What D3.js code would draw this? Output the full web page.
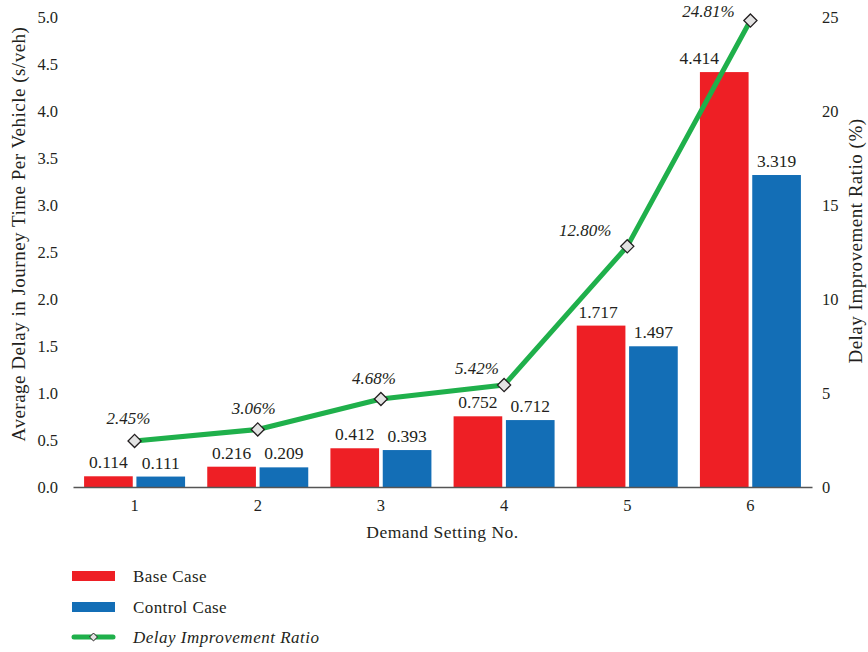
<!DOCTYPE html>
<html>
<head>
<meta charset="utf-8">
<script src="https://cdn.jsdelivr.net/npm/d3@7"></script>
<style>
  body { margin: 0; background: #fff; }
  svg text { font-family: "Liberation Serif", "DejaVu Serif", serif; fill: #231f20; }
</style>
</head>
<body>
<div id="chart"></div>
<script>
const settings = ["1", "2", "3", "4", "5", "6"];
const baseCase = [0.114, 0.216, 0.412, 0.752, 1.717, 4.414];
const controlCase = [0.111, 0.209, 0.393, 0.712, 1.497, 3.319];
const improvementRatio = [2.45, 3.06, 4.68, 5.42, 12.80, 24.81];
const leftTicks = [0, 0.5, 1, 1.5, 2, 2.5, 3, 3.5, 4, 4.5, 5];
const rightTicks = [0, 5, 10, 15, 20, 25];

// hand placement of labels so they clear the green line
const ratioLabelShift = [[-6, -17], [-4, -15], [-7, -15], [-27, -11], [-42, -10], [-42, -4]];
const baseLabelShift = [0, 0, 0, 0, -3, -25];

const red = "#ee1f25", blue = "#136eb6", green = "#1fb04b";

const width = 868, height = 652;
const plot = {left: 73, right: 812, top: 17, bottom: 487};

const svg = d3.select("#chart")
  .append("svg")
    .attr("width", width)
    .attr("height", height);

const x = d3.scaleBand()
  .domain(settings)
  .range([plot.left, plot.right])
  .paddingInner(0.18)
  .paddingOuter(0.09);

const xSub = d3.scaleBand()
  .domain(["base", "control"])
  .range([0, x.bandwidth()])
  .paddingInner(0.07);

const y = d3.scaleLinear().domain([0, 5]).range([plot.bottom, plot.top]);
const y2 = d3.scaleLinear().domain([0, 25]).range([plot.bottom, plot.top]);

// left axis
const leftAxis = svg.append("g")
  .attr("transform", "translate(" + (plot.left - 15) + ",0)")
  .call(d3.axisLeft(y).tickValues(leftTicks).tickFormat(d3.format(".1f")).tickSize(0).tickPadding(0));
leftAxis.select(".domain").remove();
leftAxis.selectAll("text").style("font-size", "16.5px");

// right axis
const rightAxis = svg.append("g")
  .attr("transform", "translate(" + (plot.right + 10) + ",0)")
  .call(d3.axisRight(y2).tickValues(rightTicks).tickSize(0).tickPadding(0));
rightAxis.select(".domain").remove();
rightAxis.selectAll("text").style("font-size", "16.5px");

// bars
const rows = settings.map((s, i) => ({s: s, i: i, base: baseCase[i], control: controlCase[i]}));
const pairs = d => [{k: "base", v: d.base, i: d.i}, {k: "control", v: d.control, i: d.i}];

const groups = svg.selectAll(".grp")
  .data(rows)
  .join("g")
    .attr("class", "grp")
    .attr("transform", d => "translate(" + x(d.s) + ",0)");

groups.selectAll("rect")
  .data(pairs)
  .join("rect")
    .attr("x", d => xSub(d.k))
    .attr("y", d => y(d.v))
    .attr("width", xSub.bandwidth())
    .attr("height", d => plot.bottom - y(d.v))
    .attr("fill", d => d.k === "base" ? red : blue);

groups.selectAll("text")
  .data(pairs)
  .join("text")
    .attr("x", d => xSub(d.k) + xSub.bandwidth() / 2 + (d.k === "base" ? baseLabelShift[d.i] : 0))
    .attr("y", d => y(d.v) - 8)
    .attr("text-anchor", "middle")
    .style("font-size", "17.5px")
    .text(d => d3.format(".3f")(d.v));

// x axis
const bottomAxis = svg.append("g")
  .attr("transform", "translate(0," + plot.bottom + ")")
  .call(d3.axisBottom(x).tickSize(0).tickPadding(12));
bottomAxis.select(".domain").attr("stroke", "#555").attr("stroke-width", 1.5);
bottomAxis.selectAll("text").style("font-size", "16.5px");

// ratio line
const cx = i => x(settings[i]) + x.bandwidth() / 2;

svg.append("path")
  .datum(improvementRatio)
  .attr("fill", "none")
  .attr("stroke", green)
  .attr("stroke-width", 5)
  .attr("stroke-linejoin", "round")
  .attr("d", d3.line().x((d, i) => cx(i)).y(d => y2(d)));

const diamond = d3.symbol().type(d3.symbolDiamond2).size(110);

svg.selectAll(".pt")
  .data(improvementRatio)
  .join("path")
    .attr("class", "pt")
    .attr("transform", (d, i) => "translate(" + cx(i) + "," + y2(d) + ")")
    .attr("d", diamond)
    .attr("fill", "#e3e3e3")
    .attr("stroke", "#231f20")
    .attr("stroke-width", 1.3);

svg.selectAll(".ratioLabel")
  .data(improvementRatio)
  .join("text")
    .attr("class", "ratioLabel")
    .attr("x", (d, i) => cx(i) + ratioLabelShift[i][0])
    .attr("y", (d, i) => y2(d) + ratioLabelShift[i][1])
    .attr("text-anchor", "middle")
    .style("font-size", "17px")
    .style("font-style", "italic")
    .text(d => d3.format(".2f")(d) + "%");

// axis titles
svg.append("text")
  .attr("transform", "translate(25,234)rotate(-90)")
  .attr("text-anchor", "middle")
  .style("font-size", "19px")
  .style("letter-spacing", "0.5px")
  .text("Average Delay in Journey Time Per Vehicle (s/veh)");

svg.append("text")
  .attr("transform", "translate(862,241)rotate(-90)")
  .attr("text-anchor", "middle")
  .style("font-size", "19px")
  .style("letter-spacing", "0.5px")
  .text("Delay Improvement Ratio (%)");

svg.append("text")
  .attr("x", (plot.left + plot.right) / 2)
  .attr("y", 538)
  .attr("text-anchor", "middle")
  .style("font-size", "17.5px")
  .style("letter-spacing", "0.5px")
  .text("Demand Setting No.");

// legend
const legend = svg.append("g").attr("transform", "translate(72,0)");

legend.append("rect").attr("x", 0).attr("y", 571).attr("width", 43).attr("height", 10).attr("fill", red);
legend.append("text").attr("x", 61).attr("y", 582)
  .style("font-size", "17px").style("letter-spacing", "0.4px").text("Base Case");

legend.append("rect").attr("x", 0).attr("y", 602).attr("width", 43).attr("height", 10).attr("fill", blue);
legend.append("text").attr("x", 61).attr("y", 613)
  .style("font-size", "17px").style("letter-spacing", "0.4px").text("Control Case");

legend.append("line")
  .attr("x1", 2).attr("x2", 41).attr("y1", 637).attr("y2", 637)
  .attr("stroke", green).attr("stroke-width", 5).attr("stroke-linecap", "round");
legend.append("path")
  .attr("transform", "translate(21.5,637)")
  .attr("d", d3.symbol().type(d3.symbolDiamond2).size(40))
  .attr("fill", "#e3e3e3").attr("stroke", "#231f20").attr("stroke-width", 1);
legend.append("text").attr("x", 61).attr("y", 643)
  .style("font-size", "17px").style("font-style", "italic").style("letter-spacing", "0.5px")
  .text("Delay Improvement Ratio");
</script>
</body>
</html>
